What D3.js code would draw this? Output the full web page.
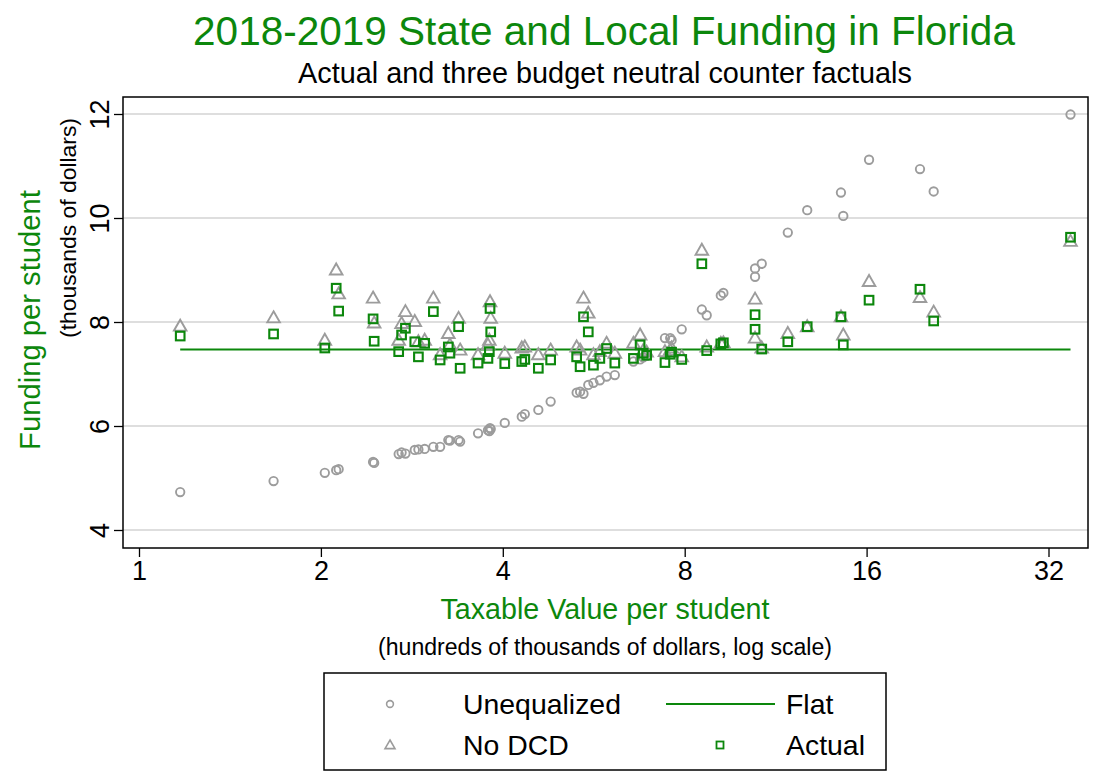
<!DOCTYPE html>
<html><head><meta charset="utf-8">
<script src="https://cdn.jsdelivr.net/npm/d3@7"></script>
<style>body{margin:0;background:#fff}svg{display:block}text{font-family:"Liberation Sans",Arial,sans-serif}</style>
</head><body>
<svg id="c" width="1095" height="772"></svg>
<script>
const taxable = [1.17,1.67,2.03,2.12,2.14,2.44,2.45,2.69,2.72,2.76,2.86,2.90,2.97,3.07,3.15,3.25,3.27,3.38,3.40,3.64,3.78,3.80,3.81,3.82,4.03,4.30,4.35,4.58,4.80,5.30,5.37,5.44,5.54,5.65,5.79,5.94,6.13,6.58,6.75,6.83,6.92,7.42,7.57,7.61,7.91,8.54,8.70,9.18,9.27,10.46,10.46,10.73,11.85,12.76,14.51,14.64,16.15,19.61,20.66,34.8];
const unequalized = [4.73,4.94,5.10,5.15,5.17,5.31,5.29,5.46,5.49,5.47,5.54,5.55,5.56,5.60,5.60,5.73,5.72,5.73,5.70,5.86,5.92,5.90,5.96,5.94,6.06,6.18,6.23,6.31,6.47,6.64,6.66,6.62,6.79,6.83,6.88,6.95,6.98,7.24,7.28,7.32,7.35,7.69,7.69,7.65,7.86,8.24,8.13,8.51,8.56,9.03,8.87,9.12,9.72,10.15,10.49,10.04,11.12,10.94,10.51,11.99];
const noDCD = [7.92,8.08,7.65,9.00,8.54,8.46,7.98,7.65,7.97,8.20,8.01,7.62,7.65,8.46,7.37,7.78,7.56,8.07,7.46,7.37,7.56,7.65,8.39,8.07,7.40,7.50,7.52,7.37,7.46,7.52,7.46,8.46,8.17,7.37,7.43,7.59,7.40,7.59,7.75,7.45,7.42,7.43,7.46,7.50,7.33,9.38,7.52,7.59,7.60,8.44,7.69,7.50,7.78,7.91,8.10,7.75,8.78,8.47,8.19,9.55];
const actual = [7.73,7.77,7.50,8.65,8.21,8.06,7.63,7.43,7.75,7.88,7.62,7.33,7.59,8.20,7.27,7.52,7.40,7.91,7.11,7.21,7.30,7.43,8.26,7.81,7.20,7.24,7.28,7.11,7.27,7.33,7.14,8.10,7.81,7.17,7.30,7.49,7.21,7.30,7.56,7.40,7.36,7.22,7.38,7.42,7.28,9.12,7.45,7.58,7.60,8.14,7.86,7.48,7.62,7.91,8.10,7.56,8.42,8.63,8.02,9.63];
const flatValue = 7.47;
const xTicks = [1,2,4,8,16,32];
const yTicks = [4,6,8,10,12];
const titleText = "2018-2019 State and Local Funding in Florida";
const subtitleText = "Actual and three budget neutral counter factuals";
const xTitle = "Taxable Value per student";
const xSub = "(hundreds of thousands of dollars, log scale)";
const yTitle = "Funding per student";
const ySub = "(thousands of dollars)";
const legendLabels = ["Unequalized","Flat","No DCD","Actual"];

const GREEN = "#0c870c", GRAY = "#9c9c9c";
const svg = d3.select("#c");
const L = 123, R = 1088, T = 97, B = 548;
const x = d3.scaleLog().base(2).domain([2**((L-139)/181.9), 2**((R-139)/181.9)]).range([L, R]);
const y = d3.scaleLinear().domain([4 - (B-530)/52, 12 + (114-T)/52]).range([B, T]);

function fit(sel, target) {
  const w = sel.node().getComputedTextLength();
  const fs = +sel.attr("font-size");
  sel.attr("font-size", (fs * target / w).toFixed(2));
  return sel;
}

// title
fit(svg.append("text").attr("x",604).attr("y",45).attr("text-anchor","middle").attr("font-size",36).attr("fill",GREEN).text(titleText), 822);
fit(svg.append("text").attr("x",605).attr("y",83).attr("text-anchor","middle").attr("font-size",22).attr("fill","#000").text(subtitleText), 614);

// grid
svg.append("g").selectAll("line").data(yTicks).join("line")
  .attr("x1",L).attr("x2",R).attr("y1",d=>y(d)).attr("y2",d=>y(d))
  .attr("stroke","#dedede").attr("stroke-width",2);

// axes
const xAxis = d3.axisBottom(x).tickValues(xTicks).tickFormat(d3.format("d")).tickSize(9).tickSizeOuter(0);
const gx = svg.append("g").attr("transform",`translate(0,${B})`).call(xAxis);
gx.select(".domain").remove();
gx.selectAll("line").attr("stroke","#000").attr("stroke-width",1.3);
gx.selectAll("text").attr("font-size",27).attr("font-family","Liberation Sans, Arial").attr("dy","0.72em").attr("y",13).attr("fill","#000");

const yAxis = d3.axisLeft(y).tickValues(yTicks).tickSize(9).tickSizeOuter(0);
const gy = svg.append("g").attr("transform",`translate(${L},0)`).call(yAxis);
gy.select(".domain").remove();
gy.selectAll("line").attr("stroke","#000").attr("stroke-width",1.3);
gy.selectAll("text").attr("font-size",27).attr("font-family","Liberation Sans, Arial").attr("fill","#000")
  .attr("x",null).attr("dy",null).attr("text-anchor","middle")
  .attr("transform","translate(-14,0) rotate(-90)").attr("y",0);

// frame
svg.append("rect").attr("x",L).attr("y",T).attr("width",R-L).attr("height",B-T).attr("fill","none").attr("stroke","#000").attr("stroke-width",1.5);

// axis titles
fit(svg.append("text").attr("x",605).attr("y",619).attr("text-anchor","middle").attr("font-size",25).attr("fill",GREEN).text(xTitle), 329);
fit(svg.append("text").attr("x",605).attr("y",655).attr("text-anchor","middle").attr("font-size",19).attr("fill","#000").text(xSub), 454);
fit(svg.append("text").attr("transform","translate(40,320) rotate(-90)").attr("text-anchor","middle").attr("font-size",25).attr("fill",GREEN).text(yTitle), 260);
fit(svg.append("text").attr("transform","translate(76,228) rotate(-90)").attr("text-anchor","middle").attr("font-size",19).attr("fill","#000").text(ySub), 220);

const rows = taxable.map((t,i)=>({t,u:unequalized[i],n:noDCD[i],a:actual[i]}));
const triPath = "M0,-6.5L6.3,4.5L-6.3,4.5Z";
const plot = svg.append("g");
plot.selectAll("circle.u").data(rows).join("circle").attr("class","u")
  .attr("cx",d=>x(d.t)).attr("cy",d=>y(d.u)).attr("r",4.2)
  .attr("fill","none").attr("stroke",GRAY).attr("stroke-width",1.9);
plot.append("line").attr("x1",x(d3.min(taxable))).attr("x2",x(d3.max(taxable)))
  .attr("y1",y(flatValue)).attr("y2",y(flatValue)).attr("stroke",GREEN).attr("stroke-width",2);
plot.selectAll("path.n").data(rows).join("path").attr("class","n")
  .attr("transform",d=>`translate(${x(d.t)},${y(d.n)})`).attr("d",triPath)
  .attr("fill","none").attr("stroke",GRAY).attr("stroke-width",1.9);
plot.selectAll("rect.a").data(rows).join("rect").attr("class","a")
  .attr("x",d=>x(d.t)-4.3).attr("y",d=>y(d.a)-4.3).attr("width",8.6).attr("height",8.6)
  .attr("fill","none").attr("stroke",GREEN).attr("stroke-width",2.1);

// legend
const lg = svg.append("g");
lg.append("rect").attr("x",324).attr("y",673).attr("width",562).attr("height",97).attr("fill","#fff").attr("stroke","#000").attr("stroke-width",1.5);
const r1 = 704, r2 = 745;
lg.append("circle").attr("cx",390).attr("cy",r1).attr("r",3.4).attr("fill","none").attr("stroke",GRAY).attr("stroke-width",1.6);
lg.append("path").attr("transform",`translate(390,${r2})`).attr("d","M0,-5L5,3.6L-5,3.6Z").attr("fill","none").attr("stroke",GRAY).attr("stroke-width",1.6);
lg.append("line").attr("x1",666).attr("x2",775).attr("y1",r1).attr("y2",r1).attr("stroke",GREEN).attr("stroke-width",2);
lg.append("rect").attr("x",716.5).attr("y",r2-3.5).attr("width",7).attr("height",7).attr("fill","none").attr("stroke",GREEN).attr("stroke-width",1.8);
const lt = [[legendLabels[0],463,r1],[legendLabels[1],786,r1],[legendLabels[2],463,r2],[legendLabels[3],786,r2]];
const ltxt = lg.selectAll("text").data(lt).join("text").attr("x",d=>d[1]).attr("y",d=>d[2]).attr("dy","0.35em")
  .attr("font-size",24).attr("fill","#000").text(d=>d[0]);
const w0 = ltxt.nodes()[0].getComputedTextLength();
ltxt.attr("font-size", (24*158/w0).toFixed(2));
</script>
</body></html>
